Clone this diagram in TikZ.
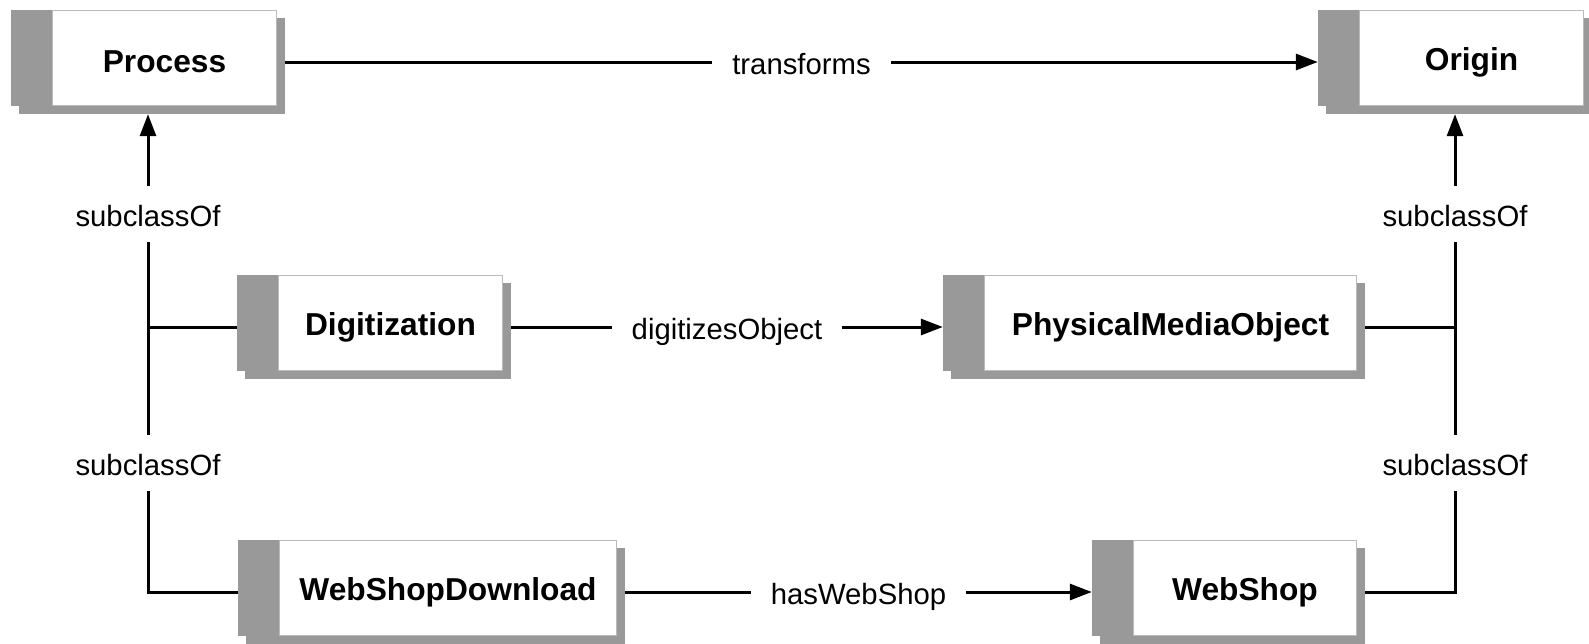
\documentclass[tikz,border=0pt]{standalone}
\usepackage{fontspec}
\setmainfont{Liberation Sans}
\usetikzlibrary{arrows.meta}
\definecolor{bandgray}{HTML}{999999}
\definecolor{edgegray}{HTML}{BBBBBB}
\tikzset{
  cls/.style={minimum width={#1pt+8pt}, minimum height=104pt, inner sep=0pt,
    fill=white,
    font=\fontsize{31.7}{36}\selectfont\bfseries,
    execute at begin node=\hspace*{33pt},
    path picture={
      \path (path picture bounding box.south west) coordinate (sw)
            (path picture bounding box.north east) coordinate (ne);
      \fill[bandgray] ([xshift=8pt]sw) rectangle ([yshift=-8pt]ne);
      \fill[bandgray] ([yshift=8pt]sw) rectangle ([xshift=-8pt]ne);
      \filldraw[fill=white, draw=edgegray, line width=1pt]
        ([shift={(41pt,8.5pt)}]sw) rectangle ([shift={(-8.5pt,-0.5pt)}]ne);
    }},
  conn/.style={line width=3pt, -{Triangle[length=22pt,width=16pt]}},
  plain/.style={line width=3pt},
  lab/.style={fill=white, font=\fontsize{29.3}{34}\selectfont,
    inner xsep=20pt, inner ysep=16pt, text height=24pt, text depth=0pt}
}
\begin{document}
\begin{tikzpicture}[x=1pt,y=-1pt]
\useasboundingbox (0,0) rectangle (1589,643);
\node[cls=266] (proc) at (148,62) {Process};
\node[cls=266] (orig) at (1455,62) {Origin};
\node[cls=266] (dig) at (374,327) {Digitization};
\node[cls=414] (pmo) at (1154,327) {PhysicalMediaObject};
\node[cls=379] (wsd) at (431.5,592) {WebShopDownload};
\node[cls=265] (ws) at (1228.5,592) {WebShop};
\coordinate (jl) at (proc.south |- dig.west);
\coordinate (jr) at (orig.south |- pmo.east);
\draw[conn] (proc) -- node[lab]{transforms} (orig);
\draw[conn] (dig) -- node[lab]{digitizesObject} (pmo);
\draw[conn] (wsd) -- node[lab]{hasWebShop} (ws);
\draw[conn] (dig.west) -| node[lab,pos=0.765]{subclassOf} (proc.south);
\draw[plain] (wsd.west) -| node[lab,pos=0.743]{subclassOf} (jl);
\draw[conn] (pmo.east) -| node[lab,pos=0.765]{subclassOf} (orig.south);
\draw[plain] (ws.east) -| node[lab,pos=0.743]{subclassOf} (jr);
\end{tikzpicture}
\end{document}
